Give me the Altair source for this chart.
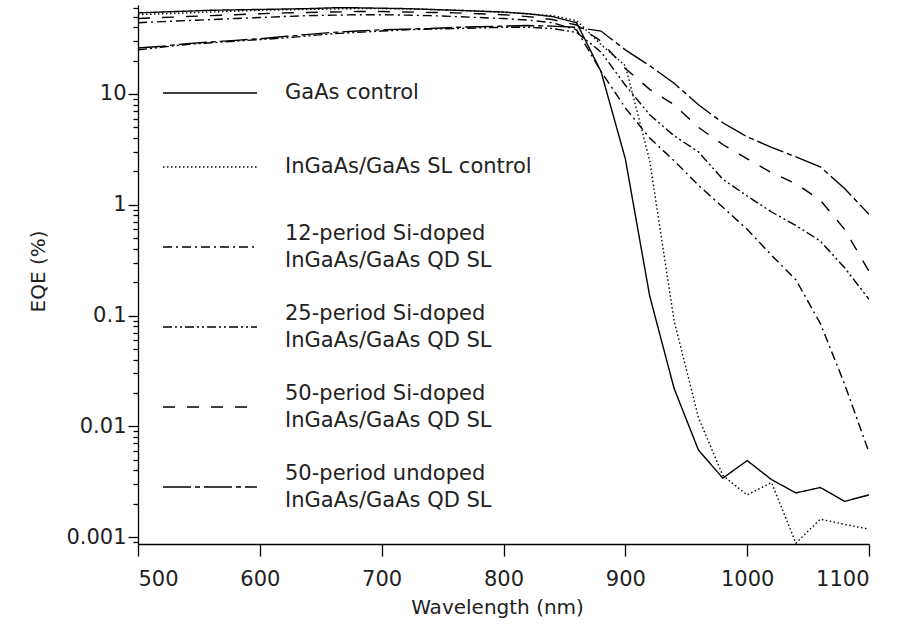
import altair as alt
import pandas as pd

# ---------------- data ----------------
wavelength = [500, 520, 540, 560, 580, 600, 620, 640, 660, 680, 700, 720, 740, 760, 780,
              800, 820, 840, 860, 880, 900, 920, 940, 960, 980, 1000, 1020, 1040, 1060, 1080, 1100]

gaas_control = [54, 55, 56, 57, 57.5, 58, 58.5, 59, 60, 60, 59.5, 59, 58, 57, 56,
                55, 53, 50, 44, 16, 2.6, 0.15, 0.022, 0.0061, 0.0034, 0.0049, 0.0033, 0.0025, 0.0028, 0.0021, 0.0024]

sl_control = [52, 53, 54, 55, 56, 57, 57.5, 58, 58.5, 59, 59, 58.5, 58, 57, 56,
              54.5, 53, 51, 46, 28, 18, 2.5, 0.09, 0.012, 0.0036, 0.0024, 0.0031, 0.00088, 0.00145, 0.0013, 0.00118]

p12_si = [44, 45, 46, 47, 48, 49, 50, 51, 51.5, 52, 52, 51.5, 51, 50, 49,
          48, 46.5, 44, 38, 16, 7.5, 4, 2.5, 1.5, 0.95, 0.6, 0.35, 0.21, 0.085, 0.024, 0.0058]

p25_si = [25, 26.5, 28, 29, 30, 31, 32, 33.5, 35, 36, 37, 38, 38.5, 39, 39.5,
          40, 40, 39, 36, 24, 12, 6.5, 4.2, 3.0, 1.7, 1.2, 0.86, 0.65, 0.47, 0.27, 0.14]

p50_si = [48, 49, 50, 51, 52, 53, 54, 54.5, 55, 55.5, 55.5, 55, 54.5, 54, 53,
          52, 50, 47, 42, 30, 17, 11, 8, 5, 3.5, 2.6, 1.95, 1.55, 1.1, 0.6, 0.25]

p50_undoped = [26, 27, 28.5, 29.5, 30.5, 31.5, 33, 34.5, 36, 37, 38, 38.5, 39, 40, 40.5,
               41, 41.5, 41, 40, 37, 25, 18, 12.5, 8, 5.5, 4.1, 3.3, 2.7, 2.2, 1.4, 0.82]

series_names = [
    "GaAs control",
    "InGaAs/GaAs SL control",
    "12-period Si-doped InGaAs/GaAs QD SL",
    "25-period Si-doped InGaAs/GaAs QD SL",
    "50-period Si-doped InGaAs/GaAs QD SL",
    "50-period undoped InGaAs/GaAs QD SL",
]
legend_labels = [
    "GaAs control",
    "InGaAs/GaAs SL control",
    "12-period Si-doped\nInGaAs/GaAs QD SL",
    "25-period Si-doped\nInGaAs/GaAs QD SL",
    "50-period Si-doped\nInGaAs/GaAs QD SL",
    "50-period undoped\nInGaAs/GaAs QD SL",
]
series_values = [gaas_control, sl_control, p12_si, p25_si, p50_si, p50_undoped]

x_ticks = [500, 600, 700, 800, 900, 1000, 1100]
y_major = [0.001, 0.01, 0.1, 1, 10]
y_ticks = [0.0009,
           0.001, 0.002, 0.003, 0.004, 0.005, 0.006, 0.007, 0.008, 0.009,
           0.01, 0.02, 0.03, 0.04, 0.05, 0.06, 0.07, 0.08, 0.09,
           0.1, 0.2, 0.3, 0.4, 0.5, 0.6, 0.7, 0.8, 0.9,
           1, 2, 3, 4, 5, 6, 7, 8, 9,
           10, 20, 30, 40, 50, 60]

# ---------------- styles / layout ----------------
FONT = "DejaVu Sans"
LINE_H = 27
dash_range = [[1, 0], [1.5, 2.5], [9, 4, 2, 4], [9, 3, 2, 3, 2, 3], [12, 12], [28, 4, 5, 4]]
# legend row centres, in pixels from the top of the plot area
legend_row_y = [88, 162, 242, 322, 402, 482]

rows = []
for name, vals in zip(series_names, series_values):
    for w, v in zip(wavelength, vals):
        rows.append({"series": name, "wl": w, "eqe": v})
df = pd.DataFrame(rows)

leg_df = pd.DataFrame({"series": series_names, "label": legend_labels, "ly": legend_row_y})
leg_df["ty"] = [y - LINE_H / 2 * lab.count("\n") for y, lab in zip(legend_row_y, legend_labels)]

dash_scale = alt.Scale(domain=series_names, range=dash_range)

major_test = "indexof([0.001, 0.01, 0.1, 1, 10], datum.value) >= 0"

lines = alt.Chart(df).mark_line(color="black", strokeWidth=1.4, clip=True).encode(
    x=alt.X("wl:Q",
            scale=alt.Scale(domain=[500, 1100], nice=False, zero=False),
            axis=alt.Axis(values=x_ticks, title="Wavelength (nm)", format="d",
                          tickSize=12, labelPadding=12,
                          titleX=359, titleY=63, titleBaseline="middle")),
    y=alt.Y("eqe:Q",
            scale=alt.Scale(type="log", domain=[0.000865, 63.6], nice=False),
            axis=alt.Axis(values=y_ticks, title="EQE (%)", format="~g",
                          labelExpr=f"{major_test} ? datum.label : ''",
                          tickSize={"condition": {"test": major_test, "value": 10}, "value": 5},
                          labelPadding=2,
                          titleX=-100, titleY=266, titleBaseline="middle", titleAngle=270)),
    strokeDash=alt.StrokeDash("series:N", scale=dash_scale, legend=None),
    detail="series:N",
)

leg_lines = alt.Chart(leg_df).mark_rule(color="black", strokeWidth=1.4).encode(
    x=alt.value(25), x2=alt.value(119),
    y=alt.Y("ly:Q", scale=None, axis=None),
    strokeDash=alt.StrokeDash("series:N", scale=dash_scale, legend=None),
)

leg_text = alt.Chart(leg_df).mark_text(
    align="left", baseline="middle", font=FONT, fontSize=21,
    lineBreak="\n", lineHeight=LINE_H, color="#222"
).encode(
    x=alt.value(147),
    y=alt.Y("ty:Q", scale=None, axis=None),
    text="label:N",
)

chart = alt.layer(lines, leg_lines, leg_text).resolve_scale(y="independent").properties(
    width=731, height=539,
    autosize=alt.AutoSizeParams(type="none"),
    padding={"left": 138, "top": 5, "right": 32, "bottom": 80},
).configure_view(stroke=None).configure_axis(
    grid=False, domainColor="black", tickColor="black", domainWidth=1.3, tickWidth=1.3,
    labelFont=FONT, labelFontSize=21, labelColor="#222",
    titleFont=FONT, titleFontSize=20, titleFontWeight="normal", titleColor="#222",
)

chart.save("out.html", embed_options={"renderer": "svg", "actions": False})
